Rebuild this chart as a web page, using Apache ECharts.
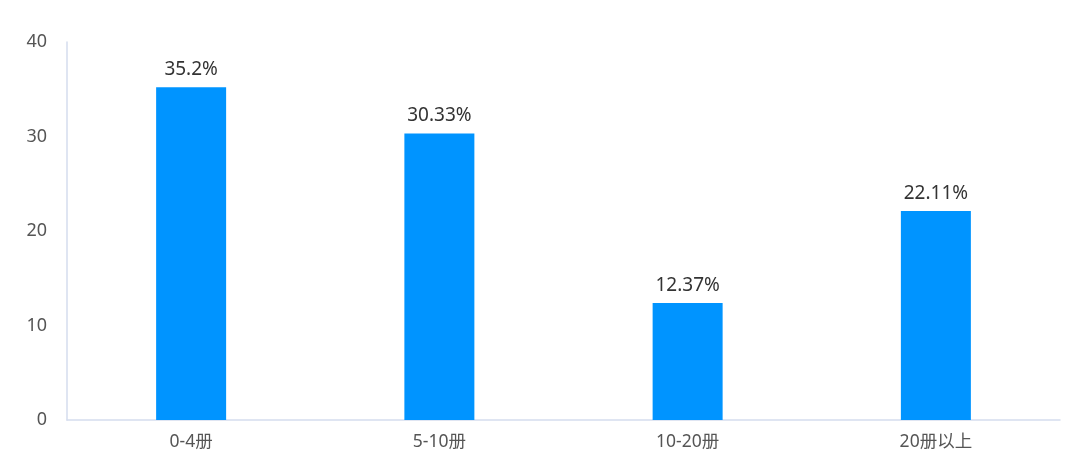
<!DOCTYPE html>
<html><head><meta charset="utf-8">
<script src="https://cdn.jsdelivr.net/npm/echarts@6/dist/echarts.min.js"></script>
<style>html,body{margin:0;padding:0;background:#fff}#c{width:1080px;height:476px}</style>
</head><body><div id="c"></div>
<script>
const categories = ['0-4册', '5-10册', '10-20册', '20册以上'];
const values = [35.2, 30.33, 12.37, 22.11];
const yTicks = [0, 10, 20, 30, 40];

const chart = echarts.init(document.getElementById('c'), null, {renderer: 'canvas'});
chart.setOption({
  animation: false,
  textStyle: {fontFamily: '"Noto Sans", "Noto Sans CJK SC", sans-serif'},
  grid: {left: 67, right: 20, top: 42, bottom: 56, containLabel: false},
  xAxis: {
    type: 'category',
    data: categories,
    axisLine: {show: true, lineStyle: {color: '#D5DDEE', width: 1.5}},
    axisTick: {show: false},
    axisLabel: {color: '#555', fontSize: 17.5, margin: 13, fontFamily: '"Noto Sans", "Noto Sans CJK SC", sans-serif'}
  },
  yAxis: {
    type: 'value',
    min: yTicks[0], max: yTicks[yTicks.length - 1], interval: 10,
    axisLine: {show: true, lineStyle: {color: '#D5DDEE', width: 1.5}},
    axisTick: {show: false},
    splitLine: {show: false},
    axisLabel: {color: '#555', fontSize: 18, margin: 20}
  },
  series: [{
    type: 'bar',
    data: values,
    barWidth: 70,
    itemStyle: {color: '#0094FF'},
    label: {show: true, position: 'top', distance: 8, color: '#333', fontSize: 19,
      formatter: p => p.value + '%'}
  }]
});
</script></body></html>
